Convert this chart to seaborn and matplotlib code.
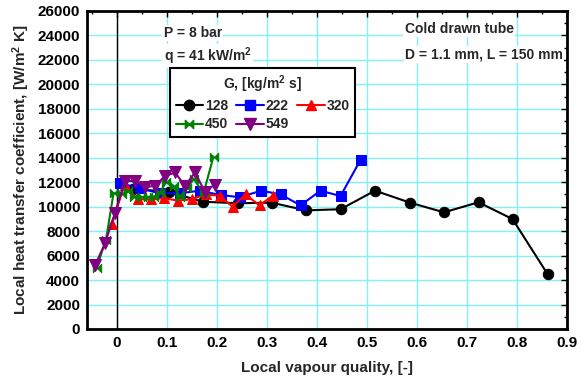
import numpy as np
import pandas as pd
import matplotlib
matplotlib.use("Agg")
import matplotlib.pyplot as plt
from matplotlib.ticker import MultipleLocator
from matplotlib.lines import Line2D
import seaborn as sns

# ---- data ----
x_128 = [0.031, 0.103, 0.171, 0.241, 0.309, 0.378, 0.447, 0.516, 0.586, 0.654, 0.723, 0.791, 0.861]
h_128 = [11450, 11230, 10410, 10280, 10330, 9700, 9790, 11310, 10330, 9540, 10360, 8990, 4500]

x_222 = [0.005, 0.045, 0.085, 0.125, 0.165, 0.207, 0.246, 0.288, 0.327, 0.367, 0.407, 0.447, 0.487]
h_222 = [11950, 11500, 11100, 11100, 11300, 10960, 10770, 11310, 11010, 10110, 11310, 10870, 13820]

x_320 = [-0.010, 0.015, 0.041, 0.068, 0.094, 0.121, 0.149, 0.177, 0.205, 0.231, 0.257, 0.285, 0.311]
h_320 = [8600, 11800, 10600, 10600, 10700, 10500, 10600, 11000, 10900, 10000, 11000, 10100, 10900]

x_450 = [-0.041, -0.022, -0.007, 0.010, 0.022, 0.034, 0.049, 0.061, 0.073, 0.085, 0.098, 0.113, 0.126, 0.140, 0.153, 0.173, 0.193]
h_450 = [5000, 7300, 11100, 11000, 11300, 10800, 10800, 10800, 10800, 11100, 12000, 11700, 10800, 11500, 12300, 11100, 14100]

x_549 = [-0.044, -0.024, -0.004, 0.016, 0.036, 0.056, 0.076, 0.096, 0.116, 0.136, 0.156, 0.176, 0.195]
h_549 = [5200, 7000, 9500, 12100, 12100, 11600, 11700, 12500, 12800, 11700, 12800, 11200, 11800]

series_labels = ["128", "222", "320", "450", "549"]
series_x = [x_128, x_222, x_320, x_450, x_549]
series_h = [h_128, h_222, h_320, h_450, h_549]

x_ticks = [0, 0.1, 0.2, 0.3, 0.4, 0.5, 0.6, 0.7, 0.8, 0.9]
x_tick_labels = ["0", "0.1", "0.2", "0.3", "0.4", "0.5", "0.6", "0.7", "0.8", "0.9"]
y_ticks = list(range(0, 26001, 2000))

# ---- styles ----
colors = {"128": "black", "222": "#0000ff", "320": "#ff0000", "450": "#008000", "549": "#800080"}
bowtie = [(-1, -1), (1, 1), (1, -1), (-1, 1), (-1, -1)]
markers = {"128": "o", "222": "s", "320": "^", "450": bowtie, "549": "v"}
msizes = {"128": 7.5, "222": 7, "320": 7.5, "450": 6, "549": 8.5}

frames = []
for lab, xs, hs in zip(series_labels, series_x, series_h):
    frames.append(pd.DataFrame({"x": xs, "h": hs, "G": lab}))
df = pd.concat(frames, ignore_index=True)

sns.set_style("white")
plt.rcParams["font.family"] = ["Liberation Sans", "DejaVu Sans"]
plt.rcParams["font.weight"] = "bold"
plt.rcParams["mathtext.default"] = "regular"

fig = plt.figure(figsize=(5.85, 3.87), dpi=100)
ax = fig.add_axes([87 / 585, 1 - 329 / 387, (567 - 87) / 585, (329 - 11) / 387])

# grid
for xv in x_ticks:
    ax.axvline(xv, color="#80f4f4", lw=1, zorder=0)
for yv in y_ticks:
    ax.axhline(yv, color="#80f4f4", lw=1, zorder=0)
ax.axvline(0, color="black", lw=1, zorder=1)

handles = {}
for lab in series_labels:
    sub = df[df["G"] == lab]
    sns.lineplot(data=sub, x="x", y="h", ax=ax, color=colors[lab], lw=1.5,
                 marker=markers[lab], markersize=msizes[lab],
                 markeredgecolor=colors[lab], markerfacecolor=colors[lab],
                 sort=False, estimator=None, legend=False, zorder=3)
    handles[lab] = Line2D([], [], color=colors[lab], lw=1.5, marker=markers[lab],
                          markersize=msizes[lab], markerfacecolor=colors[lab],
                          markeredgecolor=colors[lab], label=lab)

ax.set_xlim(-0.06, 0.9)
ax.set_ylim(0, 26000)
ax.set_xticks(x_ticks)
ax.set_xticklabels(x_tick_labels)
ax.set_yticks(y_ticks)
ax.xaxis.set_minor_locator(MultipleLocator(0.05))
ax.yaxis.set_minor_locator(MultipleLocator(1000))
ax.tick_params(which="both", direction="in", top=True, right=True,
               labelsize=11, width=1, colors="black")
ax.tick_params(which="major", length=4, pad=5)
ax.tick_params(which="minor", length=2.5)
for t in ax.get_xticklabels() + ax.get_yticklabels():
    t.set_fontweight("bold")
for s in ax.spines.values():
    s.set_linewidth(2)
    s.set_color("black")

ax.set_xlabel("Local vapour quality, [-]", fontsize=11, fontweight="bold", labelpad=8)
ax.set_ylabel("Local heat transfer coefficient, [W/m$^2$ K]", fontsize=11,
              fontweight="bold", labelpad=4)

bbox = dict(facecolor="white", edgecolor="none", pad=1)
ax.text(0.0936, 24200, "P = 8 bar", fontsize=10, fontweight="bold", va="center", bbox=bbox, zorder=4)
ax.text(0.0936, 22300, "q = 41 kW/m$^2$", fontsize=10, fontweight="bold", va="center", bbox=bbox, zorder=4)
ax.text(0.684, 24550, "Cold drawn tube", fontsize=10, fontweight="bold", va="center", ha="center", bbox=bbox, zorder=4)
ax.text(0.892, 22450, "D = 1.1 mm, L = 150 mm", fontsize=10, fontweight="bold", va="center", ha="right", bbox=bbox, zorder=4)

# row-major order for a 3-column legend: 128 222 320 / 450 549
order = ["128", "450", "222", "549", "320"]
leg = ax.legend(handles=[handles[k] for k in order], ncol=3, title="G, [kg/m$^2$ s]", loc="upper left",
                bbox_to_anchor=((170 - 87) / 480, (329 - 68) / 318),
                frameon=True, fancybox=False, framealpha=1, edgecolor="black",
                fontsize=10, title_fontsize=10, handlelength=2.0, handletextpad=0.1,
                columnspacing=0.6, borderpad=0.4, labelspacing=0.3, borderaxespad=0)
leg.get_frame().set_linewidth(1.5)
leg.get_title().set_fontweight("bold")
for t in leg.get_texts():
    t.set_fontweight("bold")
leg.set_zorder(5)

fig.savefig("out.png", dpi=100)
